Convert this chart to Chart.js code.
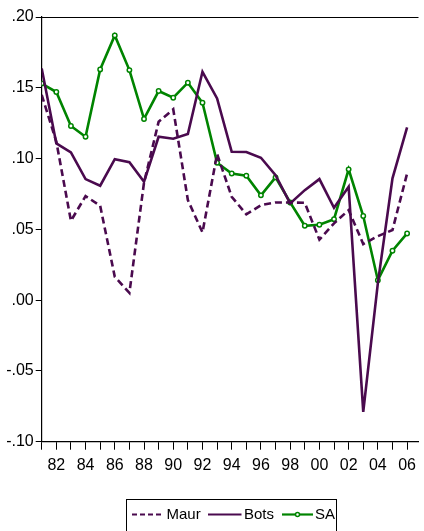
<!DOCTYPE html>
<html><head><meta charset="utf-8">
<script src="https://cdn.jsdelivr.net/npm/chart.js@4"></script>
<style>html,body{margin:0;padding:0;background:#fff;}#wrap{position:relative;width:424px;height:531px;}</style>
</head><body><div id="wrap"><canvas id="c" width="424" height="531"></canvas></div>
<script>
const years = [1981,1982,1983,1984,1985,1986,1987,1988,1989,1990,1991,1992,1993,1994,1995,1996,1997,1998,1999,2000,2001,2002,2003,2004,2005,2006];
const maur = [0.145,0.112,0.056,0.0735,0.0667,0.0165,0.0051,0.083,0.126,0.1348,0.0707,0.0478,0.1032,0.073,0.0606,0.0671,0.069,0.069,0.0688,0.0427,0.0542,0.0636,0.0396,0.0452,0.0495,0.0895];
const bots = [0.1637,0.1107,0.1044,0.0855,0.0808,0.0996,0.0975,0.0836,0.1154,0.114,0.1173,0.1613,0.1425,0.1048,0.1046,0.1006,0.0883,0.0683,0.0777,0.0855,0.0652,0.0801,-0.0789,0.012,0.086,0.122];
const sa = [0.153,0.147,0.123,0.1154,0.163,0.187,0.1625,0.128,0.1477,0.143,0.1536,0.1394,0.097,0.0895,0.0879,0.074,0.0867,0.069,0.0525,0.0532,0.0572,0.0924,0.0594,0.0141,0.0349,0.0471];
const seriesNames = ['Maur','Bots','SA'];
const yTicks = [-0.10,-0.05,0.00,0.05,0.10,0.15,0.20];
const xLabelYears = [1982,1984,1986,1988,1990,1992,1994,1996,1998,2000,2002,2004,2006];

const PURPLE = '#4a0a4e';
const GREEN = '#008400';
const FONT = '"Liberation Sans Narrow", "Liberation Sans", Arial, sans-serif';

function pts(arr){ return years.map((y,i)=>({x:y,y:arr[i]})); }
function fmt(v){ let s=(Math.round(v*100)/100).toFixed(2); return s.replace(/^(-?)0\./,'$1.'); }

const legendPlugin = {
  id:'boxLegend',
  afterDraw(chart){
    const ctx = chart.ctx;
    ctx.save();
    ctx.strokeStyle = '#000'; ctx.lineWidth = 1;
    ctx.strokeRect(126.5, 499.5, 210, 40);
    const cy = 514.5;
    ctx.font = '15px ' + FONT;
    ctx.textBaseline = 'middle';
    ctx.fillStyle = '#000';
    ctx.strokeStyle = PURPLE; ctx.lineWidth = 2.2; ctx.setLineDash([5,3]);
    ctx.beginPath(); ctx.moveTo(132,cy); ctx.lineTo(163,cy); ctx.stroke();
    ctx.setLineDash([]);
    ctx.fillText(seriesNames[0], 166.5, cy);
    ctx.beginPath(); ctx.moveTo(208,cy); ctx.lineTo(241.5,cy); ctx.stroke();
    ctx.fillText(seriesNames[1], 244, cy);
    ctx.strokeStyle = GREEN;
    ctx.beginPath(); ctx.moveTo(282,cy); ctx.lineTo(313,cy); ctx.stroke();
    ctx.fillStyle = '#fff'; ctx.lineWidth = 1.5;
    ctx.beginPath(); ctx.arc(297.5,cy,2,0,Math.PI*2); ctx.fill(); ctx.stroke();
    ctx.fillStyle = '#000';
    ctx.fillText(seriesNames[2], 315, cy);
    ctx.restore();
  }
};
const frameTop = {
  id:'frameTop',
  afterDraw(chart){
    const a = chart.chartArea, ctx = chart.ctx;
    const y = Math.round(a.top) + 0.5;
    ctx.save(); ctx.strokeStyle='#000'; ctx.lineWidth=1;
    ctx.beginPath(); ctx.moveTo(a.left, y); ctx.lineTo(a.right, y); ctx.stroke();
    ctx.restore();
  }
};

new Chart(document.getElementById('c'), {
  type:'line',
  data:{ datasets:[
    {label:seriesNames[0], data:pts(maur), borderColor:PURPLE, borderWidth:2.6, borderDash:[7,4], pointRadius:0, tension:0, fill:false},
    {label:seriesNames[1], data:pts(bots), borderColor:PURPLE, borderWidth:2.6, pointRadius:0, tension:0, fill:false},
    {label:seriesNames[2], data:pts(sa), borderColor:GREEN, borderWidth:2.6, pointRadius:2.2, pointBorderWidth:1.5, pointBackgroundColor:'#ffffff', pointBorderColor:GREEN, tension:0, fill:false}
  ]},
  options:{
    responsive:false, animation:false, devicePixelRatio:1,
    layout:{padding:{top:17,right:0,bottom:60,left:0}},
    plugins:{legend:{display:false}, tooltip:{enabled:false}},
    scales:{
      x:{type:'linear', min:1981, max:2006.78,
        afterBuildTicks(s){ s.ticks = years.map(v=>({value:v})); },
        afterFit(s){ s.height = 29.3; },
        grid:{drawOnChartArea:false, drawTicks:true, tickLength:8, color:'#000', lineWidth:1},
        border:{display:true, color:'#000', width:1.2},
        ticks:{autoSkip:false, maxRotation:0, padding:6, color:'#000', font:{family:FONT, size:16},
          callback(v){ return xLabelYears.includes(v) ? String(v%100).padStart(2,'0') : ''; }}
      },
      y:{min:-0.1, max:0.2,
        afterBuildTicks(s){ s.ticks = yTicks.map(v=>({value:v})); },
        afterFit(s){ s.width = 41.7; },
        grid:{drawOnChartArea:false, drawTicks:true, tickLength:6, color:'#000', lineWidth:1},
        border:{display:true, color:'#000', width:1.2},
        ticks:{padding:2, color:'#000', font:{family:FONT, size:16}, callback(v){ return fmt(v); }}
      }
    }
  },
  plugins:[legendPlugin, frameTop]
});
</script></body></html>
